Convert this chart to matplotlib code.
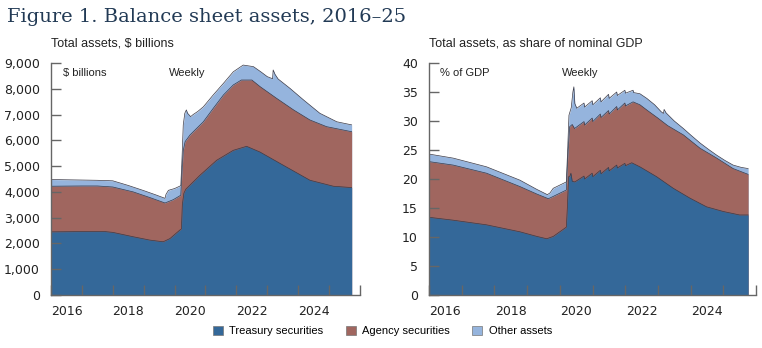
import matplotlib
matplotlib.use("Agg")
import matplotlib.pyplot as plt
from matplotlib.patches import Patch
from matplotlib.ticker import FuncFormatter, FixedLocator
from matplotlib import font_manager

names = {f.name for f in font_manager.fontManager.ttflist}
narrow = 'Liberation Sans Narrow' if 'Liberation Sans Narrow' in names else 'Liberation Sans'

c_tsy = '#346899'
c_agy = '#a0665f'
c_oth = '#95b4dd'
c_edge = '#3a3a48'
c_axis = '#666666'
c_title = '#223a55'

# ---- left panel, $ billions (tops of the stacked layers) ----
yr_tot_l = [2016.0, 2016.5, 2017.0, 2017.5, 2018.0, 2018.5, 2019.0, 2019.4, 2019.69, 2019.72,
            2019.8, 2020.0, 2020.2, 2020.24, 2020.28, 2020.33, 2020.38, 2020.42, 2020.52, 2020.6,
            2020.75, 2020.93, 2021.25, 2021.58, 2021.9, 2022.22, 2022.55, 2022.8, 2023.0, 2023.17,
            2023.19, 2023.25, 2023.35, 2023.73, 2024.17, 2024.7, 2025.25, 2025.73]
total_l = [4480, 4470, 4460, 4450, 4430, 4250, 4050, 3880, 3750, 3900,
           4060, 4130, 4240, 5300, 6600, 7050, 7180, 7050, 6920, 7000,
           7120, 7300, 7760, 8210, 8660, 8920, 8860, 8650, 8470, 8390,
           8730, 8560, 8380, 8020, 7570, 7050, 6720, 6600]

yr_agy_l = [2016.0, 2017.0, 2017.5, 2018.0, 2018.66, 2019.2, 2019.69, 2019.96, 2020.2, 2020.24,
            2020.28, 2020.34, 2020.5, 2020.93, 2021.25, 2021.58, 2021.9, 2022.16, 2022.5, 2022.77,
            2023.3, 2023.85, 2024.38, 2024.92, 2025.73]
agency_top_l = [4220, 4230, 4230, 4190, 4000, 3780, 3570, 3700, 3870, 4800,
                5600, 5950, 6210, 6720, 7240, 7760, 8150, 8340, 8340, 8080,
                7630, 7180, 6790, 6530, 6335]

yr_tsy_l = [2016.0, 2017.0, 2017.75, 2018.0, 2018.66, 2019.2, 2019.63, 2019.85, 2020.17, 2020.22,
            2020.25, 2020.3, 2020.36, 2020.82, 2021.36, 2021.9, 2022.33, 2022.76, 2023.52, 2024.38,
            2025.14, 2025.73]
treasury_l = [2450, 2460, 2460, 2430, 2260, 2130, 2065, 2190, 2520, 2560,
              3500, 3950, 4100, 4645, 5226, 5613, 5768, 5548, 5032, 4452,
              4219, 4168]

# ---- right panel, % of nominal GDP ----
yr_tot_r = [2016.0, 2016.74, 2017.76, 2018.78, 2019.3, 2019.62, 2019.7, 2019.8, 2020.2, 2020.24,
            2020.28, 2020.35, 2020.4, 2020.43, 2020.46, 2020.52, 2020.74, 2020.76, 2020.99, 2021.01,
            2021.24, 2021.26, 2021.49, 2021.51, 2021.74, 2021.76, 2021.99, 2022.01, 2022.24, 2022.26,
            2022.45, 2022.66, 2022.9, 2023.1, 2023.17, 2023.19, 2023.25, 2023.5, 2023.78, 2024.0,
            2024.29, 2024.55, 2024.8, 2025.05, 2025.3, 2025.55, 2025.76]
total_r = [24.3, 23.6, 22.1, 19.8, 18.2, 17.3, 17.6, 18.4, 19.5, 25.0,
           31.0, 32.3, 35.0, 35.9, 33.0, 32.2, 33.1, 32.4, 33.5, 32.8,
           34.0, 33.3, 34.6, 33.9, 35.0, 34.4, 35.3, 34.8, 35.3, 34.9,
           34.7, 33.9, 32.8, 31.6, 31.3, 32.0, 31.4, 30.0, 28.7, 27.6,
           26.2, 25.1, 24.1, 23.2, 22.4, 22.0, 21.8]

yr_agy_r = [2016.0, 2016.74, 2017.76, 2018.78, 2019.3, 2019.65, 2019.8, 2020.2, 2020.24, 2020.3,
            2020.38, 2020.45, 2020.74, 2020.76, 2020.99, 2021.01, 2021.24, 2021.26, 2021.49, 2021.51,
            2021.74, 2021.76, 2021.99, 2022.01, 2022.24, 2022.45, 2022.66, 2023.0, 2023.3, 2023.78,
            2024.29, 2024.8, 2025.3, 2025.76]
agency_top_r = [23.0, 22.4, 21.0, 18.7, 17.4, 16.6, 17.0, 18.1, 23.5, 29.0,
                29.4, 28.7, 29.9, 29.3, 30.5, 29.9, 31.2, 30.6, 31.8, 31.2,
                32.5, 31.9, 33.1, 32.6, 33.3, 32.8, 31.9, 30.5, 29.2, 27.6,
                25.3, 23.6, 21.8, 20.8]

yr_tsy_r = [2016.0, 2016.74, 2017.76, 2018.78, 2019.3, 2019.6, 2019.8, 2020.2, 2020.23, 2020.27,
            2020.31, 2020.34, 2020.38, 2020.46, 2020.74, 2020.76, 2020.99, 2021.01, 2021.24, 2021.26,
            2021.49, 2021.51, 2021.74, 2021.76, 2021.99, 2022.01, 2022.2, 2022.45, 2022.96, 2023.47,
            2023.98, 2024.49, 2025.0, 2025.5, 2025.76]
treasury_r = [13.4, 12.9, 12.1, 10.9, 10.1, 9.7, 10.1, 11.7, 15.0, 20.4,
              20.5, 21.0, 19.6, 19.5, 20.5, 20.0, 21.0, 20.4, 21.5, 20.9,
              22.0, 21.4, 22.4, 21.9, 22.7, 22.3, 22.8, 22.1, 20.4, 18.4,
              16.7, 15.2, 14.4, 13.8, 13.8]

panels = [
    dict(rect=[51/762, 53/348, 309/762, 232/348], ymax=9000, ystep=1000,
         fmt=lambda v, p: f'{int(v):,}', subtitle='Total assets, $ billions', unit='$ billions',
         unit_x=2016.38, weekly_x=2019.83,
         layers=[(yr_tot_l, total_l, c_oth), (yr_agy_l, agency_top_l, c_agy), (yr_tsy_l, treasury_l, c_tsy)]),
    dict(rect=[429/762, 53/348, 327/762, 232/348], ymax=40, ystep=5,
         fmt=lambda v, p: f'{int(v)}', subtitle='Total assets, as share of nominal GDP', unit='% of GDP',
         unit_x=2016.33, weekly_x=2020.08,
         layers=[(yr_tot_r, total_r, c_oth), (yr_agy_r, agency_top_r, c_agy), (yr_tsy_r, treasury_r, c_tsy)]),
]

fig = plt.figure(figsize=(7.62, 3.48), dpi=100)

for p in panels:
    ax = fig.add_axes(p['rect'])
    for yrs, vals, col in p['layers']:
        ax.fill_between(yrs, 0, vals, color=col, linewidth=0)
        ax.plot(yrs, vals, color=c_edge, linewidth=0.5)
    ax.set_xlim(2016, 2026)
    ax.set_ylim(0, p['ymax'])
    for s in ['top', 'right']:
        ax.spines[s].set_visible(False)
    for s in ['left', 'bottom']:
        ax.spines[s].set_color(c_axis)
        ax.spines[s].set_linewidth(1.0)
    ax.xaxis.set_major_locator(FixedLocator(list(range(2016, 2027))))
    ax.xaxis.set_minor_locator(FixedLocator([2016.5, 2018.5, 2020.5, 2022.5, 2024.5]))
    ax.xaxis.set_major_formatter(FuncFormatter(lambda v, q: ''))
    ax.xaxis.set_minor_formatter(FuncFormatter(lambda v, q: f'{int(v)}'))
    ax.tick_params(axis='x', which='major', direction='in', length=7, width=1.0, color=c_axis)
    ax.tick_params(axis='x', which='minor', length=0, pad=7, labelsize=9, labelcolor='#222222')
    ax.set_yticks([i * p['ystep'] for i in range(10 if p['ymax'] == 9000 else 9)])
    ax.yaxis.set_major_formatter(FuncFormatter(p['fmt']))
    ax.tick_params(axis='y', direction='in', length=7, width=1.0, color=c_axis, pad=8,
                   labelsize=9, labelcolor='#222222')
    ax.text(0, 1.07, p['subtitle'], transform=ax.transAxes, fontsize=9, family=narrow, color='#222222')
    ax.text(p['unit_x'], p['ymax'] * 0.955, p['unit'], fontsize=8, family=narrow, va='center', color='#222222')
    ax.text(p['weekly_x'], p['ymax'] * 0.955, 'Weekly', fontsize=8, family=narrow, va='center', color='#222222')

fig.text(7/762, 1 - 22/348, 'Figure 1. Balance sheet assets, 2016\u201325', fontsize=14,
         family='DejaVu Serif', color=c_title)

handles = [Patch(facecolor=c_tsy, edgecolor='#777777', linewidth=0.5, label='Treasury securities'),
           Patch(facecolor=c_agy, edgecolor='#777777', linewidth=0.5, label='Agency securities'),
           Patch(facecolor=c_oth, edgecolor='#777777', linewidth=0.5, label='Other assets')]
fig.legend(handles=handles, loc='center', bbox_to_anchor=(0.502, 1 - 331/348), ncol=3, frameon=False,
           handlelength=0.9, handleheight=0.9, handletextpad=0.6, columnspacing=2.0,
           prop={'family': narrow, 'size': 8})

fig.savefig('out.png', dpi=100)
